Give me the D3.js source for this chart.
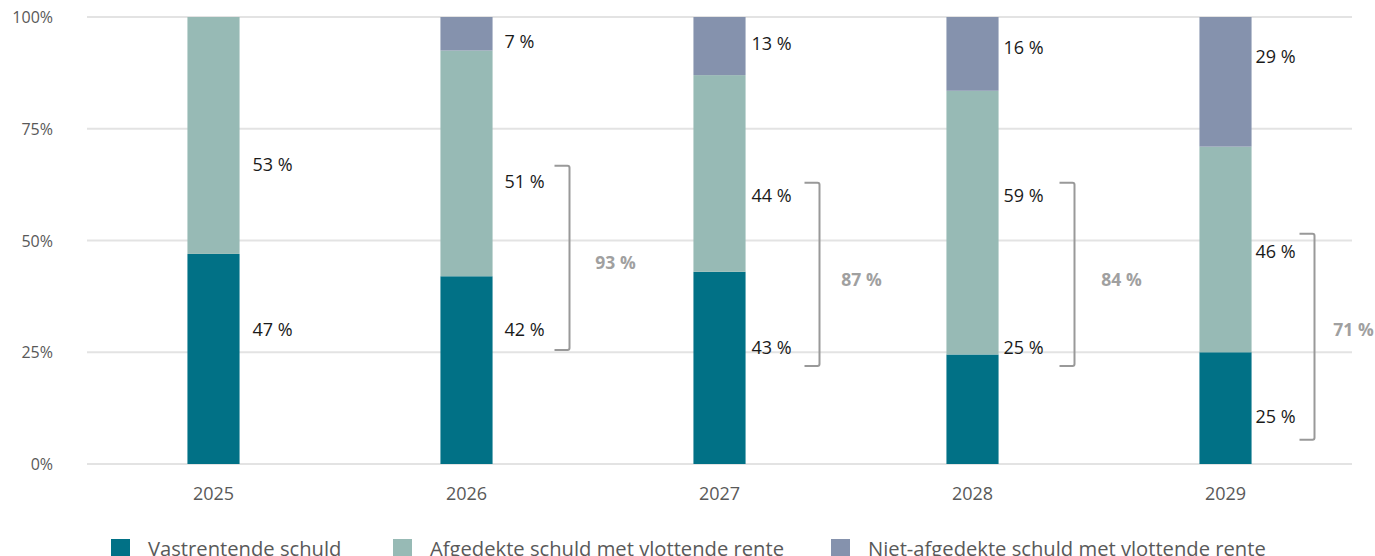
<!DOCTYPE html>
<html>
<head>
<meta charset="utf-8">
<script src="https://cdn.jsdelivr.net/npm/d3@7"></script>
<style>
  body { margin: 0; background: #fff; }
  svg { display: block; font-family: "Open Sans", sans-serif; }
</style>
</head>
<body>
<svg id="chart" width="1375" height="556"></svg>
<script>
const WIDTH = 1375;
const HEIGHT = 556;

const years = ['2025', '2026', '2027', '2028', '2029'];
const seriesNames = [
  'Vastrentende schuld',
  'Afgedekte schuld met vlottende rente',
  'Niet-afgedekte schuld met vlottende rente',
];
const fixedDebt = [47, 42, 43, 24.5, 25];
const hedgedFloating = [53, 50.5, 44, 59, 46];
const unhedgedFloating = [0, 7.5, 13, 16.5, 29];

const fixedLabels = ['47 %', '42 %', '43 %', '25 %', '25 %'];
const hedgedLabels = ['53 %', '51 %', '44 %', '59 %', '46 %'];
const unhedgedLabels = ['', '7 %', '13 %', '16 %', '29 %'];
const totalLabels = ['', '93 %', '87 %', '84 %', '71 %'];

// where the labels sit, in % on the y axis
const fixedLabelAt = [30, 30, 26, 26, 10.5];
const hedgedLabelAt = [67, 63, 60, 60, 47.5];
const unhedgedLabelAt = [97, 94.5, 94, 93, 91];
const totalLabelAt = [null, 45, 41.2, 41.2, 30];
const bracketTop = [null, 66.7, 62.9, 62.9, 51.5];
const bracketBottom = [null, 25.5, 21.9, 21.9, 5.4];

const yTicks = [0, 25, 50, 75, 100];
const colors = ['#017186', '#97bab5', '#8592ad'];

const margin = { top: 17, right: 23, bottom: 92, left: 87 };
const svg = d3.select('#chart');

const x = d3.scaleBand().domain(years)
  .range([margin.left, WIDTH - margin.right]).paddingInner(0.794).paddingOuter(0.397);
const y = d3.scaleLinear().domain([0, 100]).range([HEIGHT - margin.bottom, margin.top]);

// gridlines
svg.append('g')
  .selectAll('line')
  .data(yTicks)
  .join('line')
  .attr('x1', margin.left)
  .attr('x2', WIDTH - margin.right)
  .attr('y1', (d) => y(d))
  .attr('y2', (d) => y(d))
  .attr('stroke', '#e3e3e3')
  .attr('stroke-width', 2);

// y tick labels
svg.append('g')
  .selectAll('text')
  .data(yTicks)
  .join('text')
  .attr('x', 53)
  .attr('y', (d) => y(d) + 6)
  .attr('text-anchor', 'end')
  .attr('fill', '#595959')
  .style('font-size', '16px')
  .text((d) => `${d}%`);

// x labels
svg.append('g')
  .selectAll('text')
  .data(years)
  .join('text')
  .attr('x', (d) => x(d) + x.bandwidth() / 2)
  .attr('y', 500)
  .attr('text-anchor', 'middle')
  .attr('fill', '#595959')
  .style('font-size', '18px')
  .text((d) => d);

// stacked bars
const rows = years.map((year, i) => ({
  year, fixed: fixedDebt[i], hedged: hedgedFloating[i], unhedged: unhedgedFloating[i],
}));
const stack = d3.stack().keys(['fixed', 'hedged', 'unhedged'])(rows);

svg.append('g')
  .selectAll('g')
  .data(stack)
  .join('g')
  .attr('fill', (d, i) => colors[i])
  .selectAll('rect')
  .data((d) => d)
  .join('rect')
  .attr('x', (d) => x(d.data.year))
  .attr('width', x.bandwidth())
  .attr('y', (d) => y(d[1]))
  .attr('height', (d) => y(d[0]) - y(d[1]));

// value labels
const labelOffset = [13, 12, 6, 5, 4];
const labelSets = [
  [fixedLabels, fixedLabelAt],
  [hedgedLabels, hedgedLabelAt],
  [unhedgedLabels, unhedgedLabelAt],
];
labelSets.forEach(([texts, at]) => {
  svg.append('g')
    .selectAll('text')
    .data(years)
    .join('text')
    .attr('x', (d, i) => x(d) + x.bandwidth() + labelOffset[i])
    .attr('y', (d, i) => y(at[i]) + 6)
    .attr('fill', '#1a1a1a')
    .style('font-size', '18px')
    .text((d, i) => texts[i]);
});

// brackets with totals
const bracketGap = [0, 103, 100, 102, 89];
const totalGap = [0, 149, 142, 149, 128];
years.forEach((year, i) => {
  if (bracketTop[i] === null) return;
  const bx = x(year) + x.bandwidth() / 2 + bracketGap[i];
  const t = y(bracketTop[i]);
  const b = y(bracketBottom[i]);
  svg.append('path')
    .attr('d', `M${bx - 15},${t} L${bx - 2},${t} Q${bx},${t} ${bx},${t + 2} L${bx},${b - 2} Q${bx},${b} ${bx - 2},${b} L${bx - 15},${b}`)
    .attr('fill', 'none')
    .attr('stroke', '#999')
    .attr('stroke-width', 2);
  svg.append('text')
    .attr('x', x(year) + x.bandwidth() / 2 + totalGap[i])
    .attr('y', y(totalLabelAt[i]) + 6)
    .attr('text-anchor', 'middle')
    .attr('fill', '#a0a0a0')
    .style('font-size', '17.5px')
    .style('font-weight', 'bold')
    .text(totalLabels[i]);
});

// legend
const legendX = [111, 393, 831];
const legend = svg.append('g')
  .selectAll('g')
  .data(seriesNames)
  .join('g')
  .attr('transform', (d, i) => `translate(${legendX[i]}, 539)`);
legend.append('rect')
  .attr('width', 19)
  .attr('height', 19)
  .attr('fill', (d, i) => colors[i]);
legend.append('text')
  .attr('x', 37)
  .attr('y', 17)
  .attr('fill', '#595959')
  .style('font-size', '20.2px')
  .text((d) => d);
</script>
</body>
</html>
